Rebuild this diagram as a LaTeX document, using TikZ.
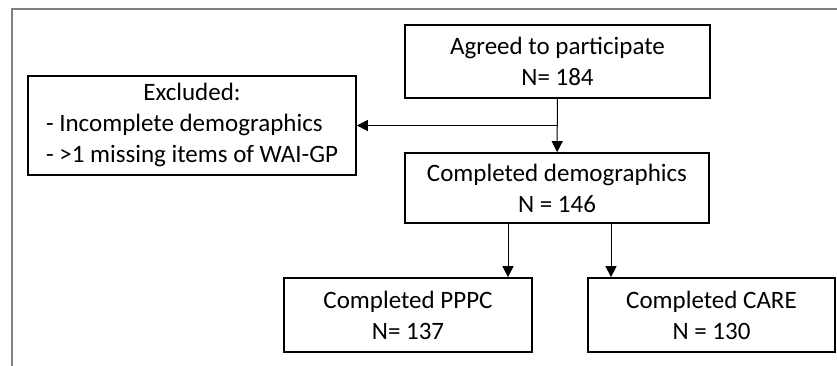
\documentclass[tikz,border=0pt]{standalone}
\usepackage{fontspec}
\setmainfont{Carlito}
\usetikzlibrary{arrows.meta,positioning}
\tikzset{
  box/.style={draw, line width=1.7pt, align=center, inner sep=0pt, text centered, font=\fontsize{25}{31}\selectfont},
  arr/.style={-{Triangle[width=11pt,length=11pt]}, line width=1pt},
  frame/.style={draw=gray, line width=1.5pt}
}

\begin{document}
\begin{tikzpicture}[x=1pt,y=-1pt]
    \useasboundingbox (0,0) rectangle (837,366);
    \draw[frame] (12,366) -- (12,9) -- (837,9);
    \node[box, minimum width=305pt, minimum height=73pt] (agreed) at (557.5,61.5) {Agreed to participate\\N= 184};
    \node[box, minimum width=304pt, minimum height=70pt] (demog) at (557,188) {Completed demographics\\N = 146};
    \node[box, minimum width=328pt, minimum height=99pt] (excl) at (192,125.5)
    	{\begin{tabular}{@{}l@{}}\multicolumn{1}{@{}c@{}}{Excluded:}\\- Incomplete demographics\\- >1 missing items of WAI-GP\end{tabular}};
    \node[box, minimum width=248pt, minimum height=74pt] (pppc) at (408,315) {Completed PPPC\\N= 137};
    \node[box, minimum width=247pt, minimum height=74pt] (care) at (711.5,315) {Completed CARE\\N = 130};
    \draw[arr] (agreed) -- (demog);
    \coordinate (split) at (agreed.south |- excl.east);
    \draw[arr] (split) -- (excl.east);
    \draw[arr] ([xshift=-49pt]demog.south) coordinate (p1) -- (p1 |- pppc.north);
    \draw[arr] ([xshift=54pt]demog.south) coordinate (p2) -- (p2 |- care.north);
\end{tikzpicture}
\end{document}
